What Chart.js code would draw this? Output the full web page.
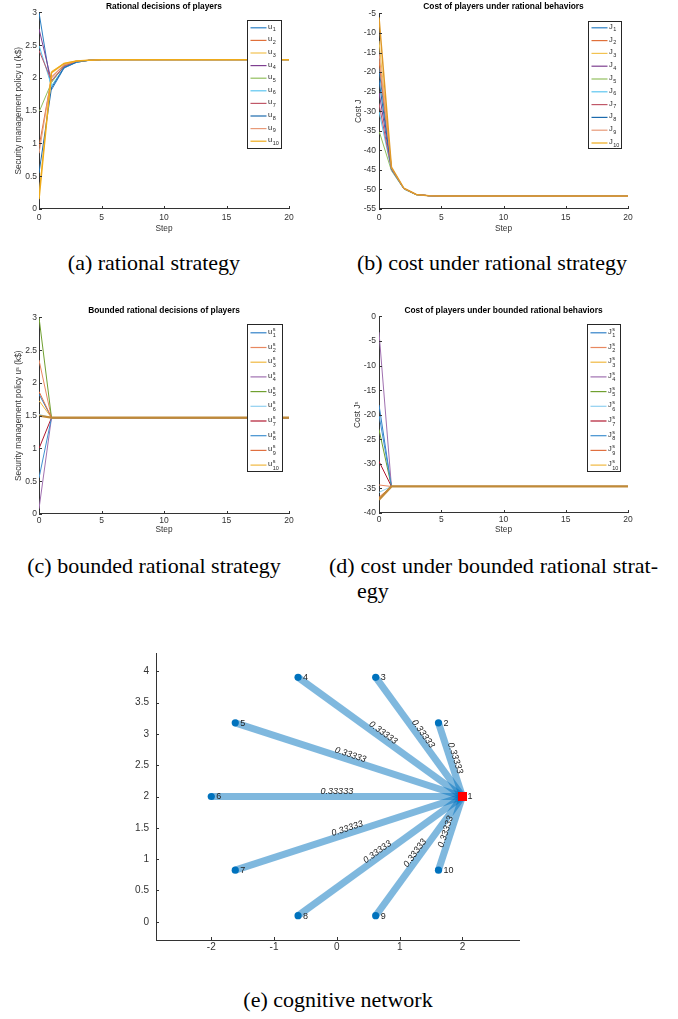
<!DOCTYPE html>
<html lang="en">
<head>
<meta charset="UTF-8">
<title>Rational and bounded rational players</title>
<script src="https://cdn.jsdelivr.net/npm/chart.js"></script>
<style>
  body { margin: 0; background: #fff; width: 678px; height: 1019px; position: relative; overflow: hidden; }
  .panel { position: absolute; }
  .cap {
    position: absolute;
    font-family: 'Liberation Serif', 'Times New Roman', serif;
    font-size: 22px;
    line-height: 24px;
    color: #000;
    white-space: nowrap;
    text-align: center;
  }
  .just { text-align: justify; text-align-last: justify; white-space: normal; }
</style>
</head>
<body>

<div class="panel" style="left:0;top:0"><canvas id="chartA" width="300" height="240"></canvas></div>
<div class="panel" style="left:330px;top:0"><canvas id="chartB" width="310" height="240"></canvas></div>
<div class="panel" style="left:0;top:300px"><canvas id="chartC" width="300" height="240"></canvas></div>
<div class="panel" style="left:330px;top:300px"><canvas id="chartD" width="310" height="240"></canvas></div>
<div class="panel" style="left:120px;top:640px"><canvas id="chartE" width="420" height="320"></canvas></div>

<div class="cap" style="left:4px;top:251px;width:300px">(a) rational strategy</div>
<div class="cap" style="left:342px;top:251px;width:300px">(b) cost under rational strategy</div>
<div class="cap" style="left:4px;top:554px;width:300px">(c) bounded rational strategy</div>
<div class="cap just" style="left:329px;top:554px;width:329px">(d) cost under bounded rational strat-</div>
<div class="cap" style="left:357px;top:579px;text-align:left">egy</div>
<div class="cap" style="left:188px;top:988px;width:300px">(e) cognitive network</div>

<script>
// ---- data ----
const steps = [0, 1, 2, 3, 4, 5, 6, 7, 8, 9, 10, 11, 12, 13, 14, 15, 16, 17, 18, 19, 20];
const stepTicks = [0, 5, 10, 15, 20];

// (a) rational decisions u_i
const uRational = [
  [3.00, 1.82, 2.15, 2.24, 2.27, 2.28, 2.28, 2.28, 2.28, 2.28, 2.28, 2.28, 2.28, 2.28, 2.28, 2.28, 2.28, 2.28, 2.28, 2.28, 2.28],
  [0.95, 2.00, 2.20, 2.26, 2.27, 2.28, 2.28, 2.28, 2.28, 2.28, 2.28, 2.28, 2.28, 2.28, 2.28, 2.28, 2.28, 2.28, 2.28, 2.28, 2.28],
  [0.20, 2.10, 2.22, 2.26, 2.27, 2.28, 2.28, 2.28, 2.28, 2.28, 2.28, 2.28, 2.28, 2.28, 2.28, 2.28, 2.28, 2.28, 2.28, 2.28, 2.28],
  [2.75, 1.95, 2.17, 2.25, 2.27, 2.28, 2.28, 2.28, 2.28, 2.28, 2.28, 2.28, 2.28, 2.28, 2.28, 2.28, 2.28, 2.28, 2.28, 2.28, 2.28],
  [1.48, 1.93, 2.19, 2.25, 2.27, 2.28, 2.28, 2.28, 2.28, 2.28, 2.28, 2.28, 2.28, 2.28, 2.28, 2.28, 2.28, 2.28, 2.28, 2.28, 2.28],
  [2.50, 1.88, 2.16, 2.24, 2.27, 2.28, 2.28, 2.28, 2.28, 2.28, 2.28, 2.28, 2.28, 2.28, 2.28, 2.28, 2.28, 2.28, 2.28, 2.28, 2.28],
  [2.42, 1.96, 2.18, 2.25, 2.27, 2.28, 2.28, 2.28, 2.28, 2.28, 2.28, 2.28, 2.28, 2.28, 2.28, 2.28, 2.28, 2.28, 2.28, 2.28, 2.28],
  [0.55, 1.85, 2.16, 2.24, 2.27, 2.28, 2.28, 2.28, 2.28, 2.28, 2.28, 2.28, 2.28, 2.28, 2.28, 2.28, 2.28, 2.28, 2.28, 2.28, 2.28],
  [0.85, 2.02, 2.20, 2.26, 2.27, 2.28, 2.28, 2.28, 2.28, 2.28, 2.28, 2.28, 2.28, 2.28, 2.28, 2.28, 2.28, 2.28, 2.28, 2.28, 2.28],
  [0.15, 2.08, 2.22, 2.26, 2.27, 2.28, 2.28, 2.28, 2.28, 2.28, 2.28, 2.28, 2.28, 2.28, 2.28, 2.28, 2.28, 2.28, 2.28, 2.28, 2.28]
];
const uNames = ['u_1', 'u_2', 'u_3', 'u_4', 'u_5', 'u_6', 'u_7', 'u_8', 'u_9', 'u_10'];
const uTicks = [0, 0.5, 1, 1.5, 2, 2.5, 3];

// (b) cost J_i under rational behaviour
const jRational = [
  [-19, -44.6, -49.8, -51.3, -51.6, -51.7, -51.7, -51.7, -51.7, -51.7, -51.7, -51.7, -51.7, -51.7, -51.7, -51.7, -51.7, -51.7, -51.7, -51.7, -51.7],
  [-17, -44.5, -49.8, -51.3, -51.6, -51.7, -51.7, -51.7, -51.7, -51.7, -51.7, -51.7, -51.7, -51.7, -51.7, -51.7, -51.7, -51.7, -51.7, -51.7, -51.7],
  [-12, -44.4, -49.7, -51.3, -51.6, -51.7, -51.7, -51.7, -51.7, -51.7, -51.7, -51.7, -51.7, -51.7, -51.7, -51.7, -51.7, -51.7, -51.7, -51.7, -51.7],
  [-25, -44.8, -49.8, -51.3, -51.6, -51.7, -51.7, -51.7, -51.7, -51.7, -51.7, -51.7, -51.7, -51.7, -51.7, -51.7, -51.7, -51.7, -51.7, -51.7, -51.7],
  [-35, -45.2, -49.9, -51.4, -51.6, -51.7, -51.7, -51.7, -51.7, -51.7, -51.7, -51.7, -51.7, -51.7, -51.7, -51.7, -51.7, -51.7, -51.7, -51.7, -51.7],
  [-30, -45.0, -49.9, -51.3, -51.6, -51.7, -51.7, -51.7, -51.7, -51.7, -51.7, -51.7, -51.7, -51.7, -51.7, -51.7, -51.7, -51.7, -51.7, -51.7, -51.7],
  [-28, -44.9, -49.8, -51.3, -51.6, -51.7, -51.7, -51.7, -51.7, -51.7, -51.7, -51.7, -51.7, -51.7, -51.7, -51.7, -51.7, -51.7, -51.7, -51.7, -51.7],
  [-22, -44.7, -49.8, -51.3, -51.6, -51.7, -51.7, -51.7, -51.7, -51.7, -51.7, -51.7, -51.7, -51.7, -51.7, -51.7, -51.7, -51.7, -51.7, -51.7, -51.7],
  [-15, -44.5, -49.8, -51.3, -51.6, -51.7, -51.7, -51.7, -51.7, -51.7, -51.7, -51.7, -51.7, -51.7, -51.7, -51.7, -51.7, -51.7, -51.7, -51.7, -51.7],
  [-6, -44.3, -49.7, -51.3, -51.6, -51.7, -51.7, -51.7, -51.7, -51.7, -51.7, -51.7, -51.7, -51.7, -51.7, -51.7, -51.7, -51.7, -51.7, -51.7, -51.7]
];
const jNames = ['J_1', 'J_2', 'J_3', 'J_4', 'J_5', 'J_6', 'J_7', 'J_8', 'J_9', 'J_10'];
const jTicks = [-55, -50, -45, -40, -35, -30, -25, -20, -15, -10, -5];

// (c) bounded rational decisions u^s_i
const uBounded = [
  [1.83, 1.47, 1.47, 1.47, 1.47, 1.47, 1.47, 1.47, 1.47, 1.47, 1.47, 1.47, 1.47, 1.47, 1.47, 1.47, 1.47, 1.47, 1.47, 1.47, 1.47],
  [2.35, 1.47, 1.47, 1.47, 1.47, 1.47, 1.47, 1.47, 1.47, 1.47, 1.47, 1.47, 1.47, 1.47, 1.47, 1.47, 1.47, 1.47, 1.47, 1.47, 1.47],
  [1.73, 1.47, 1.47, 1.47, 1.47, 1.47, 1.47, 1.47, 1.47, 1.47, 1.47, 1.47, 1.47, 1.47, 1.47, 1.47, 1.47, 1.47, 1.47, 1.47, 1.47],
  [0.08, 1.47, 1.47, 1.47, 1.47, 1.47, 1.47, 1.47, 1.47, 1.47, 1.47, 1.47, 1.47, 1.47, 1.47, 1.47, 1.47, 1.47, 1.47, 1.47, 1.47],
  [3.00, 1.47, 1.47, 1.47, 1.47, 1.47, 1.47, 1.47, 1.47, 1.47, 1.47, 1.47, 1.47, 1.47, 1.47, 1.47, 1.47, 1.47, 1.47, 1.47, 1.47],
  [1.52, 1.47, 1.47, 1.47, 1.47, 1.47, 1.47, 1.47, 1.47, 1.47, 1.47, 1.47, 1.47, 1.47, 1.47, 1.47, 1.47, 1.47, 1.47, 1.47, 1.47],
  [1.00, 1.47, 1.47, 1.47, 1.47, 1.47, 1.47, 1.47, 1.47, 1.47, 1.47, 1.47, 1.47, 1.47, 1.47, 1.47, 1.47, 1.47, 1.47, 1.47, 1.47],
  [0.55, 1.47, 1.47, 1.47, 1.47, 1.47, 1.47, 1.47, 1.47, 1.47, 1.47, 1.47, 1.47, 1.47, 1.47, 1.47, 1.47, 1.47, 1.47, 1.47, 1.47],
  [1.87, 1.47, 1.47, 1.47, 1.47, 1.47, 1.47, 1.47, 1.47, 1.47, 1.47, 1.47, 1.47, 1.47, 1.47, 1.47, 1.47, 1.47, 1.47, 1.47, 1.47],
  [1.50, 1.47, 1.47, 1.47, 1.47, 1.47, 1.47, 1.47, 1.47, 1.47, 1.47, 1.47, 1.47, 1.47, 1.47, 1.47, 1.47, 1.47, 1.47, 1.47, 1.47]
];
const usNames = ['u^s_1', 'u^s_2', 'u^s_3', 'u^s_4', 'u^s_5', 'u^s_6', 'u^s_7', 'u^s_8', 'u^s_9', 'u^s_10'];

// (d) cost J^s_i under bounded rational behaviour
const jBounded = [
  [-18.0, -34.6, -34.6, -34.6, -34.6, -34.6, -34.6, -34.6, -34.6, -34.6, -34.6, -34.6, -34.6, -34.6, -34.6, -34.6, -34.6, -34.6, -34.6, -34.6, -34.6],
  [-34.3, -34.6, -34.6, -34.6, -34.6, -34.6, -34.6, -34.6, -34.6, -34.6, -34.6, -34.6, -34.6, -34.6, -34.6, -34.6, -34.6, -34.6, -34.6, -34.6, -34.6],
  [-37.0, -34.6, -34.6, -34.6, -34.6, -34.6, -34.6, -34.6, -34.6, -34.6, -34.6, -34.6, -34.6, -34.6, -34.6, -34.6, -34.6, -34.6, -34.6, -34.6, -34.6],
  [-3.2, -34.6, -34.6, -34.6, -34.6, -34.6, -34.6, -34.6, -34.6, -34.6, -34.6, -34.6, -34.6, -34.6, -34.6, -34.6, -34.6, -34.6, -34.6, -34.6, -34.6],
  [-23.0, -34.6, -34.6, -34.6, -34.6, -34.6, -34.6, -34.6, -34.6, -34.6, -34.6, -34.6, -34.6, -34.6, -34.6, -34.6, -34.6, -34.6, -34.6, -34.6, -34.6],
  [-35.8, -34.6, -34.6, -34.6, -34.6, -34.6, -34.6, -34.6, -34.6, -34.6, -34.6, -34.6, -34.6, -34.6, -34.6, -34.6, -34.6, -34.6, -34.6, -34.6, -34.6],
  [-29.5, -34.6, -34.6, -34.6, -34.6, -34.6, -34.6, -34.6, -34.6, -34.6, -34.6, -34.6, -34.6, -34.6, -34.6, -34.6, -34.6, -34.6, -34.6, -34.6, -34.6],
  [-20.0, -34.6, -34.6, -34.6, -34.6, -34.6, -34.6, -34.6, -34.6, -34.6, -34.6, -34.6, -34.6, -34.6, -34.6, -34.6, -34.6, -34.6, -34.6, -34.6, -34.6],
  [-36.8, -34.6, -34.6, -34.6, -34.6, -34.6, -34.6, -34.6, -34.6, -34.6, -34.6, -34.6, -34.6, -34.6, -34.6, -34.6, -34.6, -34.6, -34.6, -34.6, -34.6],
  [-37.3, -34.6, -34.6, -34.6, -34.6, -34.6, -34.6, -34.6, -34.6, -34.6, -34.6, -34.6, -34.6, -34.6, -34.6, -34.6, -34.6, -34.6, -34.6, -34.6, -34.6]
];
const jsNames = ['J^s_1', 'J^s_2', 'J^s_3', 'J^s_4', 'J^s_5', 'J^s_6', 'J^s_7', 'J^s_8', 'J^s_9', 'J^s_10'];
const jsTicks = [-40, -35, -30, -25, -20, -15, -10, -5, 0];

// (e) cognitive network
const nodeNames = ['1', '2', '3', '4', '5', '6', '7', '8', '9', '10'];
const nodeX = [2, 1.618, 0.618, -0.618, -1.618, -2, -1.618, -0.618, 0.618, 1.618];
const nodeY = [2, 3.176, 3.902, 3.902, 3.176, 2, 0.824, 0.098, 0.098, 0.824];
const edgeFrom = [1, 1, 1, 1, 1, 1, 1, 1, 1];
const edgeTo = [2, 3, 4, 5, 6, 7, 8, 9, 10];
const edgeWeights = [0.33333, 0.33333, 0.33333, 0.33333, 0.33333, 0.33333, 0.33333, 0.33333, 0.33333];
const netXTicks = [-2, -1, 0, 1, 2];
const netYTicks = [0, 0.5, 1, 1.5, 2, 2.5, 3, 3.5, 4];

// ---- styling ----
const SANS = "'Liberation Sans', Arial, sans-serif";
const axisColor = '#333';
const ratColors = ['#2a7fc4', '#e0703a', '#f2c250', '#7e3f90', '#92bf5e', '#5cc6f0', '#c05868', '#1b6aad', '#e89a78', '#eeaa1a'];
const bndColors = ['#3080c8', '#e88860', '#f0b840', '#a070b0', '#70a030', '#90d0f0', '#b01830', '#4090d0', '#e07040', '#f0b840'];

// legend drawn as a boxed list inside the axes, like matlab's
const boxLegend = {
  id: 'boxLegend',
  afterDatasetsDraw(chart, args, opts) {
    if (!opts || !opts.width) return;
    const {ctx, chartArea} = chart;
    const x0 = Math.round(chartArea.right - opts.right - opts.width) + 0.5;
    const y0 = Math.round(chartArea.top + opts.top) + 0.5;
    ctx.save();
    ctx.fillStyle = '#fff';
    ctx.fillRect(x0, y0, opts.width, opts.height);
    ctx.strokeStyle = '#262626';
    ctx.lineWidth = 1;
    ctx.strokeRect(x0, y0, opts.width, opts.height);
    chart.data.datasets.forEach((ds, i) => {
      const y = y0 + opts.first + i * opts.gap;
      ctx.strokeStyle = ds.legendColor || ds.borderColor;
      ctx.lineWidth = 1.2;
      ctx.beginPath();
      ctx.moveTo(x0 + 3, y);
      ctx.lineTo(x0 + 19, y);
      ctx.stroke();
      const m = ds.label.match(/^(\w)(?:\^(\w))?_(\d+)$/);
      ctx.fillStyle = '#262626';
      ctx.textBaseline = 'middle';
      ctx.textAlign = 'left';
      ctx.font = '7.5px ' + SANS;
      ctx.fillText(m[1], x0 + 20.5, y - 1);
      const w = ctx.measureText(m[1]).width;
      ctx.font = '5.5px ' + SANS;
      if (m[2]) {
        ctx.fillText(m[2], x0 + 21 + w, y - 3.5);
        ctx.fillText(m[3], x0 + 21 + w, y + 3);
      } else {
        ctx.fillText(m[3], x0 + 21 + w, y + 2);
      }
    });
    ctx.restore();
  }
};

// small inward tick marks
const inwardTicks = {
  id: 'inwardTicks',
  afterDraw(chart) {
    const {ctx, chartArea, scales} = chart;
    ctx.save();
    ctx.strokeStyle = axisColor;
    ctx.lineWidth = 1;
    ctx.beginPath();
    scales.x.ticks.forEach(t => {
      const px = Math.round(scales.x.getPixelForValue(t.value)) + 0.5;
      ctx.moveTo(px, chartArea.bottom);
      ctx.lineTo(px, chartArea.bottom - 3);
    });
    scales.y.ticks.forEach(t => {
      const py = Math.round(scales.y.getPixelForValue(t.value)) + 0.5;
      ctx.moveTo(chartArea.left, py);
      ctx.lineTo(chartArea.left + 3, py);
    });
    ctx.stroke();
    ctx.restore();
  }
};

function tickFont(size) {
  return {family: SANS, size: size};
}
const plainLabel = v => String(v);

function makeLinePanel(id, o) {
  const n = o.series.length;
  const datasets = o.series.map((vals, i) => ({
    label: o.names[i],
    data: vals.map((v, k) => ({x: steps[k], y: v})),
    borderColor: (i === n - 1 && o.lastLine) ? o.lastLine : o.colors[i],
    legendColor: o.colors[i],
    borderWidth: i === n - 1 ? o.lastWidth : 1,
    pointRadius: 0,
    tension: 0,
    fill: false,
    order: n - i
  }));
  return new Chart(document.getElementById(id), {
    type: 'line',
    data: {datasets: datasets},
    options: {
      responsive: false,
      animation: false,
      events: [],
      layout: {padding: {left: 0, right: o.padRight, top: 0, bottom: 0}},
      plugins: {
        legend: {display: false},
        tooltip: {enabled: false},
        title: {
          display: true,
          text: o.title,
          fullSize: false,
          color: '#000',
          font: {family: SANS, size: 8.4, weight: 'bold'},
          padding: o.titlePad
        },
        boxLegend: o.legend
      },
      scales: {
        x: {
          type: 'linear',
          min: 0,
          max: 20,
          afterBuildTicks: s => { s.ticks = stepTicks.map(v => ({value: v})); },
          afterFit: s => { s.height = o.xH; },
          grid: {display: false, drawTicks: false},
          border: {display: true, color: axisColor},
          ticks: {font: tickFont(8.5), color: axisColor, padding: o.xTickPad, maxRotation: 0, autoSkip: false, callback: plainLabel},
          title: {display: true, text: 'Step', color: axisColor, font: tickFont(8.3), padding: {top: 0, bottom: o.xTitlePad}}
        },
        y: {
          min: o.yMin,
          max: o.yMax,
          afterBuildTicks: s => { s.ticks = o.yTicks.map(v => ({value: v})); },
          afterFit: s => { s.width = o.yW; },
          grid: {display: false, drawTicks: false},
          border: {display: true, color: axisColor},
          ticks: {font: tickFont(8.5), color: axisColor, padding: o.yTickPad, callback: plainLabel},
          title: {display: true, text: o.yTitle, color: axisColor, font: tickFont(8.3), padding: {top: o.yTitlePad, bottom: 0}}
        }
      }
    },
    plugins: [boxLegend, inwardTicks]
  });
}

makeLinePanel('chartA', {
  series: uRational, names: uNames, colors: ratColors, lastWidth: 1.5,
  title: 'Rational decisions of players',
  titlePad: {top: 2, bottom: 0.4},
  yTitle: 'Security management policy u (k$)',
  yMin: 0, yMax: 3, yTicks: uTicks,
  padRight: 11, xH: 31, yW: 39,
  xTickPad: 4, xTitlePad: 6, yTickPad: 2, yTitlePad: 14,
  legend: {right: 8, top: 8, width: 34, height: 128, first: 7.3, gap: 12.6}
});

makeLinePanel('chartB', {
  series: jRational, names: jNames, colors: ratColors, lastWidth: 1.5, lastLine: '#e09a2a',
  title: 'Cost of players under rational behaviors',
  titlePad: {top: 2, bottom: 1.4},
  yTitle: 'Cost J',
  yMin: -55, yMax: -5, yTicks: jTicks,
  padRight: 12, xH: 31, yW: 49,
  xTickPad: 4, xTitlePad: 6, yTickPad: 3, yTitlePad: 24,
  legend: {right: 7.5, top: 8, width: 33, height: 127, first: 6.3, gap: 12.8}
});

makeLinePanel('chartC', {
  series: uBounded, names: usNames, colors: bndColors, lastWidth: 2.2, lastLine: '#c08a38',
  title: 'Bounded rational decisions of players',
  titlePad: {top: 6, bottom: 1.4},
  yTitle: 'Security management policy u\u02E2 (k$)',
  yMin: 0, yMax: 3, yTicks: uTicks,
  padRight: 11, xH: 26, yW: 39,
  xTickPad: 1.2, xTitlePad: 5, yTickPad: 2, yTitlePad: 14,
  legend: {right: 7, top: 7, width: 35, height: 147, first: 8.3, gap: 14.7}
});

makeLinePanel('chartD', {
  series: jBounded, names: jsNames, colors: bndColors, lastWidth: 2.2, lastLine: '#c08a38',
  title: 'Cost of players under bounded rational behaviors',
  titlePad: {top: 6, bottom: 0.4},
  yTitle: 'Cost J\u02E2',
  yMin: -40, yMax: 0, yTicks: jsTicks,
  padRight: 12, xH: 27, yW: 49,
  xTickPad: 1.2, xTitlePad: 5, yTickPad: 3, yTitlePad: 23,
  legend: {right: 8, top: 8, width: 33, height: 147, first: 8.3, gap: 14.7}
});

// ---- (e) network graph ----
const netLabels = {
  id: 'netLabels',
  afterDatasetsDraw(chart) {
    const {ctx, scales: {x, y}} = chart;
    ctx.save();
    ctx.fillStyle = '#222';
    ctx.font = 'italic 9px ' + SANS;
    ctx.textAlign = 'center';
    ctx.textBaseline = 'alphabetic';
    edgeTo.forEach((t, k) => {
      const a = edgeFrom[k] - 1, b = t - 1;
      const x1 = x.getPixelForValue(nodeX[a]), y1 = y.getPixelForValue(nodeY[a]);
      const x2 = x.getPixelForValue(nodeX[b]), y2 = y.getPixelForValue(nodeY[b]);
      let ang = Math.atan2(y2 - y1, x2 - x1);
      if (ang > Math.PI / 2) ang -= Math.PI;
      if (ang <= -Math.PI / 2) ang += Math.PI;
      ctx.save();
      ctx.translate((x1 + x2) / 2, (y1 + y2) / 2);
      ctx.rotate(ang);
      ctx.fillText(edgeWeights[k].toFixed(5), 0, -2.5);
      ctx.restore();
    });
    ctx.font = '9px ' + SANS;
    ctx.textAlign = 'left';
    ctx.textBaseline = 'middle';
    nodeNames.forEach((name, i) => {
      ctx.fillText(name, x.getPixelForValue(nodeX[i]) + 5, y.getPixelForValue(nodeY[i]) + 0.5);
    });
    ctx.restore();
  }
};

const edgeSets = edgeTo.map((t, k) => ({
  type: 'line',
  data: [
    {x: nodeX[edgeFrom[k] - 1], y: nodeY[edgeFrom[k] - 1]},
    {x: nodeX[t - 1], y: nodeY[t - 1]}
  ],
  borderColor: 'rgba(0,114,189,0.5)',
  borderWidth: 7,
  pointRadius: 0,
  showLine: true,
  order: 1
}));

const nodeSet = {
  type: 'scatter',
  data: nodeX.map((v, i) => ({x: v, y: nodeY[i]})),
  pointStyle: nodeX.map((v, i) => i === 0 ? 'rect' : 'circle'),
  pointRadius: nodeX.map((v, i) => i === 0 ? 6.4 : 3.6),
  pointBackgroundColor: nodeX.map((v, i) => i === 0 ? '#ff0000' : '#0072BD'),
  pointBorderWidth: 0,
  order: 0
};

new Chart(document.getElementById('chartE'), {
  type: 'scatter',
  data: {datasets: [nodeSet].concat(edgeSets)},
  options: {
    responsive: false,
    animation: false,
    events: [],
    layout: {padding: {left: 0, right: 21, top: 13, bottom: 0}},
    plugins: {legend: {display: false}, tooltip: {enabled: false}},
    scales: {
      x: {
        type: 'linear',
        min: -2.88,
        max: 2.9,
        afterBuildTicks: s => { s.ticks = netXTicks.map(v => ({value: v})); },
        afterFit: s => { s.height = 20; },
        grid: {display: false, drawTicks: false},
        border: {display: true, color: axisColor},
        ticks: {font: tickFont(10), color: axisColor, padding: 1, maxRotation: 0, autoSkip: false, callback: plainLabel}
      },
      y: {
        type: 'linear',
        min: -0.29,
        max: 4.29,
        afterBuildTicks: s => { s.ticks = netYTicks.map(v => ({value: v})); },
        afterFit: s => { s.width = 36; },
        grid: {display: false, drawTicks: false},
        border: {display: true, color: axisColor},
        ticks: {font: tickFont(10), color: axisColor, padding: 7, autoSkip: false, callback: plainLabel}
      }
    }
  },
  plugins: [netLabels, inwardTicks]
});
</script>

</body>
</html>
